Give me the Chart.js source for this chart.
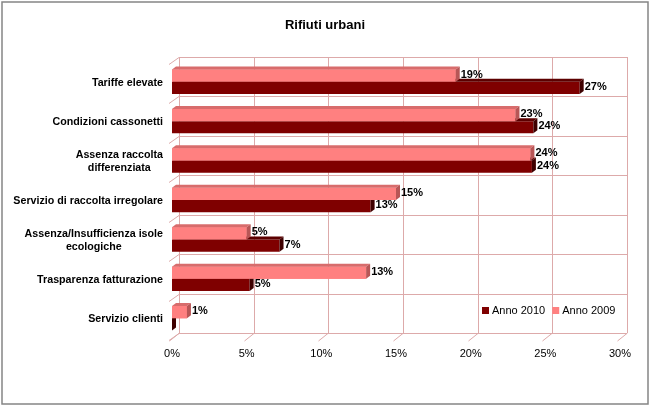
<!DOCTYPE html>
<html>
<head>
<meta charset="utf-8">
<script src="https://cdn.jsdelivr.net/npm/chart.js@4/dist/chart.umd.min.js"></script>
<style>
  body { margin: 0; background: #fff; }
  canvas { display: block; }
</style>
</head>
<body>
<canvas id="myChart" width="650" height="406"></canvas>
<script>
var chartTitle = 'Rifiuti urbani';
var categories = [
    'Tariffe elevate',
    'Condizioni cassonetti',
    ['Assenza raccolta', 'differenziata'],
    'Servizio di raccolta irregolare',
    ['Assenza/Insufficienza isole', 'ecologiche'],
    'Trasparenza fatturazione',
    'Servizio clienti'
];
var anno2009 = [19, 23, 24, 15, 5, 13, 1];
var anno2010 = [27.3, 24.2, 24.1, 13.3, 7.2, 5.2, 0];
var xTicks = [0, 5, 10, 15, 20, 25, 30];

var FONT = '"Liberation Sans", Arial, sans-serif';
var GRID = '#DDAAAA';
var wallDx = 7, wallDy = 5;   // depth of back wall
var barDx = 4, barDy = 3;     // depth of bars

var pink = { front: '#FF8080', top: '#D86C6C', side: '#B85656' };
var dark = { front: '#7F0000', top: '#5C0000', side: '#3E0000' };

function line(c, x1, y1, x2, y2){
    c.beginPath();
    c.moveTo(x1, y1);
    c.lineTo(x2, y2);
    c.stroke();
}

function poly(c, pts, color){
    c.fillStyle = color;
    c.beginPath();
    c.moveTo(pts[0][0], pts[0][1]);
    for(var i = 1; i < pts.length; i++) c.lineTo(pts[i][0], pts[i][1]);
    c.closePath();
    c.fill();
}

var frame = {
    id: 'frame',
    beforeDraw: function(chart){
        var c = chart.ctx;
        var xs = chart.scales.x, a = chart.chartArea;
        c.save();
        c.fillStyle = '#fff';
        c.fillRect(0, 0, chart.width, chart.height);
        c.strokeStyle = '#858585';
        c.lineWidth = 1.5;
        c.strokeRect(2, 2, chart.width - 4, chart.height - 4);

        // title, centred on the whole picture
        c.fillStyle = '#000';
        c.font = 'bold 13px ' + FONT;
        c.textAlign = 'center';
        c.textBaseline = 'middle';
        c.fillText(chartTitle, chart.width / 2, 25);

        c.strokeStyle = GRID;
        c.lineWidth = 1;
        var top = a.top - wallDy, bottom = a.bottom - wallDy;
        var left = xs.getPixelForValue(0), right = xs.getPixelForValue(30);
        // back wall verticals + floor diagonals
        xTicks.forEach(function(v){
            var x = Math.round(xs.getPixelForValue(v) + wallDx) + 0.5;
            line(c, x, top, x, bottom);
            line(c, x, bottom, x - wallDx - 3, a.bottom + 3);
        });
        // back wall horizontals at category borders + left wall diagonals
        var band = (a.bottom - a.top) / categories.length;
        for(var i = 0; i <= categories.length; i++){
            var y = Math.round(top + i * band) + 0.5;
            line(c, left + wallDx, y, right + wallDx, y);
            line(c, left + wallDx, y, left - 3, y + wallDy + 2);
        }
        c.restore();
    },
    afterDatasetsDraw: function(chart){
        var c = chart.ctx;
        var xs = chart.scales.x, ys = chart.scales.y, a = chart.chartArea;
        var m09 = chart.getDatasetMeta(0).data;
        var m10 = chart.getDatasetMeta(1).data;
        c.save();

        function faces(el, col){
            var x0 = el.base, x1 = el.x;
            var yt = el.y - el.height / 2, yb = el.y + el.height / 2;
            poly(c, [[x0, yt], [x1, yt], [x1 + barDx, yt - barDy], [x0 + barDx, yt - barDy]], col.top);
            poly(c, [[x1, yt], [x1 + barDx, yt - barDy], [x1 + barDx, yb - barDy], [x1, yb]], col.side);
        }

        m10.forEach(function(el){ faces(el, dark); });
        m09.forEach(function(el){
            c.fillStyle = pink.front;
            c.fillRect(el.base, el.y - el.height / 2, el.x - el.base, el.height);
            faces(el, pink);
        });

        // value labels
        c.fillStyle = '#000';
        c.font = 'bold 11px ' + FONT;
        c.textBaseline = 'middle';
        c.textAlign = 'left';
        [[m09, anno2009], [m10, anno2010]].forEach(function(pair){
            pair[0].forEach(function(el, i){
                if(pair[1][i] < 0.5) return;
                c.fillText(Math.round(pair[1][i]) + '%', el.x + barDx + 1, el.y - 1);
            });
        });

        // category labels (block right aligned, lines centred)
        c.font = 'bold 10.7px ' + FONT;
        categories.forEach(function(lab, i){
            var lines = Array.isArray(lab) ? lab : [lab];
            var w = 0;
            lines.forEach(function(s){ w = Math.max(w, c.measureText(s).width); });
            var cx = a.left - 9 - w / 2;
            var cy = ys.getPixelForValue(i) + 1;
            c.textAlign = 'center';
            lines.forEach(function(s, k){
                c.fillText(s, cx, cy + (k - (lines.length - 1) / 2) * 13);
            });
        });

        // x tick labels
        c.font = '11px ' + FONT;
        c.textAlign = 'center';
        xTicks.forEach(function(v){
            c.fillText(v + '%', xs.getPixelForValue(v), a.bottom + 16);
        });

        // legend inside plot, bottom right
        var items = [[chart.data.datasets[1], dark.front], [chart.data.datasets[0], pink.front]];
        var lx = 482, ly = 311;
        c.textAlign = 'left';
        items.forEach(function(it){
            c.fillStyle = it[1];
            c.fillRect(lx, ly - 4, 7, 7);
            c.fillStyle = '#000';
            c.fillText(it[0].label, lx + 10, ly);
            lx += 10 + c.measureText(it[0].label).width + 7;
        });
        c.restore();
    }
};

var ctx = document.getElementById('myChart');
var myChart = new Chart(ctx, {
    type: 'bar',
    data: {
        labels: categories,
        datasets: [{
            label: 'Anno 2009',
            data: anno2009,
            backgroundColor: pink.front,
            borderWidth: 0
        }, {
            label: 'Anno 2010',
            data: anno2010,
            backgroundColor: dark.front,
            borderWidth: 0
        }]
    },
    options: {
        indexAxis: 'y',
        responsive: false,
        animation: false,
        datasets: {
            bar: { categoryPercentage: 0.62, barPercentage: 1 }
        },
        layout: {
            padding: { left: 172, right: 30, top: 62, bottom: 68 }
        },
        plugins: {
            legend: { display: false },
            tooltip: { enabled: false },
            title: { display: false }
        },
        scales: {
            x: { display: false, min: 0, max: 30 },
            y: { display: false }
        }
    },
    plugins: [frame]
});
</script>
</body>
</html>
